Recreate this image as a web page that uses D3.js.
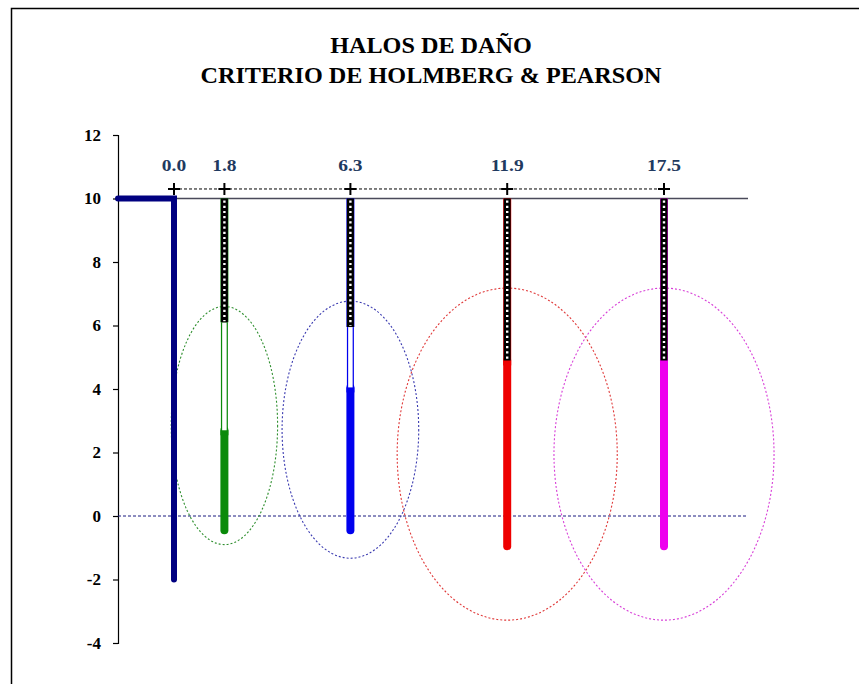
<!DOCTYPE html>
<html>
<head>
<meta charset="utf-8">
<script src="https://cdn.jsdelivr.net/npm/d3@7"></script>
<style>
  html, body { margin: 0; padding: 0; background: #fff; }
  svg { display: block; }
</style>
</head>
<body>
<div id="chart"></div>
<script>
// Hole positions along the section (m) and their labels
const holeX = [0, 1.8, 6.3, 11.9, 17.5];
const holeLabels = ["0.0", "1.8", "6.3", "11.9", "17.5"];

// Reference face: bench top at 10, face down to -2
const faceTop = 10;
const faceBottom = -2;

// Blast holes (at 1.8, 6.3, 11.9, 17.5)
const blastX = [1.8, 6.3, 11.9, 17.5];
const collarLevel = 10;
const stemmingBottom = [6.1, 5.95, 4.9, 4.9];
const chargeTop = [2.7, 4.05, 4.9, 4.9];
const holeBottom = [-0.45, -0.45, -0.95, -0.95];
const holeColors = ["#0a8a0a", "#0000ee", "#ee0000", "#ee00ee"];

// Damage halos (Holmberg & Pearson) around each charge
const haloCenterY = [2.85, 2.72, 1.95, 1.95];
const haloRadiusX = [1.9, 2.44, 3.93, 3.93];
const haloRadiusY = [3.75, 4.05, 5.23, 5.23];
const haloColors = ["#2f8f2f", "#3a3ab0", "#e03a3a", "#d840d8"];

// Axis ticks
const yTicks = [-4, -2, 0, 2, 4, 6, 8, 10, 12];
const markerLevel = 10.3;

const serif = "'Liberation Serif', 'Times New Roman', serif";
const W = 859, H = 684;
const svg = d3.select("#chart").append("svg")
  .attr("width", W).attr("height", H);

svg.append("rect").attr("width", W).attr("height", H).attr("fill", "#fff");

// frame (top and left edges)
svg.append("path")
  .attr("d", `M11.5,${H} L11.5,8.5 L${W},8.5`)
  .attr("fill", "none").attr("stroke", "#000").attr("stroke-width", 1.5);

const x = d3.scaleLinear().domain([-2, 20.5]).range([118, 748]);
const y = d3.scaleLinear().domain([-4, 12]).range([643, 135]);

// title
const title = svg.append("g").attr("transform", "translate(431,0)");
const titleText = title.append("text")
  .attr("text-anchor", "middle")
  .attr("transform", "scale(1.03,1)")
  .attr("font-family", serif)
  .attr("font-weight", "bold").attr("font-size", 23.5).attr("fill", "#000");
titleText.append("tspan").attr("x", 0).attr("y", 53).text("HALOS DE DAÑO");
titleText.append("tspan").attr("x", 0).attr("y", 83).text("CRITERIO DE HOLMBERG & PEARSON");

// y axis
const yAxis = d3.axisLeft(y).tickValues(yTicks).tickSize(5).tickPadding(12)
  .tickFormat(d => String(d));
const gy = svg.append("g").attr("transform", `translate(${x(-2)},0)`).call(yAxis);
gy.select(".domain").attr("stroke", "#000").attr("stroke-width", 1.2);
gy.selectAll(".tick line").attr("stroke", "#000").attr("stroke-width", 1.2);
gy.selectAll(".tick text")
  .attr("font-family", serif)
  .attr("font-weight", "bold").attr("font-size", 17).attr("fill", "#000");

// bench top line
svg.append("line")
  .attr("x1", x(-2)).attr("x2", x(20.5))
  .attr("y1", y(10)).attr("y2", y(10))
  .attr("stroke", "#4a4a5a").attr("stroke-width", 1.3);

// zero level (dashed)
svg.append("line")
  .attr("x1", x(-2)).attr("x2", x(20.5))
  .attr("y1", y(0)).attr("y2", y(0))
  .attr("stroke", "#1a1a80").attr("stroke-width", 1)
  .attr("stroke-dasharray", "3,2");

// halos
svg.append("g").selectAll("ellipse")
  .data(blastX)
  .join("ellipse")
  .attr("cx", d => x(d))
  .attr("cy", (d, i) => y(haloCenterY[i]))
  .attr("rx", (d, i) => x(d + haloRadiusX[i]) - x(d))
  .attr("ry", (d, i) => y(0) - y(haloRadiusY[i]))
  .attr("fill", "none")
  .attr("stroke", (d, i) => haloColors[i])
  .attr("stroke-width", 1.1)
  .attr("stroke-dasharray", "2,2");

// marker line joining the hole positions
svg.append("line")
  .attr("x1", x(d3.min(holeX))).attr("x2", x(d3.max(holeX)))
  .attr("y1", y(markerLevel)).attr("y2", y(markerLevel))
  .attr("stroke", "#000").attr("stroke-width", 1)
  .attr("stroke-dasharray", "3,2");

// reference face
svg.append("path")
  .attr("d", d3.line()([[x(-2), y(faceTop)], [x(0), y(faceTop)], [x(0), y(faceBottom)]]))
  .attr("fill", "none").attr("stroke", "#000080").attr("stroke-width", 6)
  .attr("stroke-linejoin", "miter").attr("stroke-linecap", "round");

// blast holes
const holes = svg.append("g").selectAll("g").data(blastX).join("g");

// charge column
holes.append("line")
  .attr("x1", d => x(d)).attr("x2", d => x(d))
  .attr("y1", (d, i) => y(chargeTop[i])).attr("y2", (d, i) => y(holeBottom[i]))
  .attr("stroke", (d, i) => holeColors[i]).attr("stroke-width", 8)
  .attr("stroke-linecap", "round");
// square top of charge
holes.append("line")
  .attr("x1", d => x(d)).attr("x2", d => x(d))
  .attr("y1", (d, i) => y(chargeTop[i])).attr("y2", (d, i) => y(chargeTop[i]) + 5)
  .attr("stroke", (d, i) => holeColors[i]).attr("stroke-width", 8);

// empty section between stemming and charge
holes.filter((d, i) => stemmingBottom[i] > chargeTop[i])
  .each(function (d) {
    const i = blastX.indexOf(d);
    const g = d3.select(this);
    g.append("line")
      .attr("x1", x(d)).attr("x2", x(d))
      .attr("y1", y(stemmingBottom[i])).attr("y2", y(chargeTop[i]))
      .attr("stroke", holeColors[i]).attr("stroke-width", 7);
    g.append("line")
      .attr("x1", x(d)).attr("x2", x(d))
      .attr("y1", y(stemmingBottom[i])).attr("y2", y(chargeTop[i]))
      .attr("stroke", "#fff").attr("stroke-width", 4.5);
  });

// stemming
holes.append("line")
  .attr("x1", d => x(d)).attr("x2", d => x(d))
  .attr("y1", y(collarLevel)).attr("y2", (d, i) => y(stemmingBottom[i]))
  .attr("stroke", (d, i) => holeColors[i]).attr("stroke-width", 8);
holes.append("line")
  .attr("x1", d => x(d)).attr("x2", d => x(d))
  .attr("y1", y(collarLevel)).attr("y2", (d, i) => y(stemmingBottom[i]))
  .attr("stroke", "#000").attr("stroke-width", 7);
holes.append("line")
  .attr("x1", d => x(d)).attr("x2", d => x(d))
  .attr("y1", y(collarLevel) + 2).attr("y2", (d, i) => y(stemmingBottom[i]) - 1)
  .attr("stroke", "#fff").attr("stroke-width", 2.4)
  .attr("stroke-dasharray", "2.2,3");

// cross markers and labels
const marks = svg.append("g").selectAll("g").data(holeX).join("g")
  .attr("transform", d => `translate(${x(d)},${y(markerLevel)})`);
marks.append("path")
  .attr("d", "M-6,0H6M0,-6V6")
  .attr("stroke", "#000").attr("stroke-width", 2);
marks.append("text")
  .attr("y", -18)
  .attr("text-anchor", "middle")
  .attr("transform", "scale(1.18,1)")
  .attr("font-family", serif)
  .attr("font-weight", "bold").attr("font-size", 16.5)
  .attr("fill", "#1f3a60")
  .text((d, i) => holeLabels[i]);
</script>
</body>
</html>
